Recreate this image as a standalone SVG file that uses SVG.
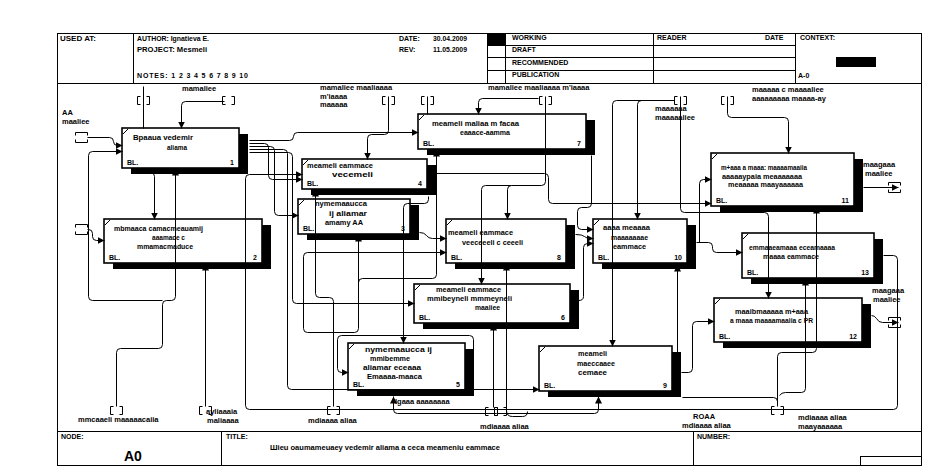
<svg xmlns="http://www.w3.org/2000/svg" width="951" height="467" viewBox="0 0 951 467">
<style>
.fr{fill:none;stroke:#000;stroke-width:1}
.bx{fill:#fff;stroke:#000;stroke-width:1.6}
.sh{fill:#000}
.ln{fill:none;stroke:#000;stroke-width:1}
.t{font-family:"Liberation Sans",Arial,sans-serif;font-size:7.5px;font-weight:bold;fill:#000}
.h{font-family:"Liberation Sans",Arial,sans-serif;font-size:7px;font-weight:bold;fill:#000}
</style>
<defs>
<marker id="a" markerUnits="userSpaceOnUse" markerWidth="8" markerHeight="8" refX="7" refY="3.5" orient="auto"><path d="M0,0 L7,3.5 L0,7 z" fill="#000"/></marker>
<path id="tv" d="M-3,-4 h-3 v8 h3 M3,-4 h3 v8 h-3" fill="none" stroke="#000" stroke-width="1"/>
<path id="th" d="M-6,-2 v-3 h12 v3 M-6,2 v3 h12 v-3" fill="none" stroke="#000" stroke-width="1"/>
</defs>
<rect width="951" height="467" fill="#fff"/>
<g id="frame">
<rect class="fr" x="57.5" y="33.5" width="864" height="432"/>
<path class="fr" d="M57,83.5 H921 M133.5,33 V83 M487.5,33 V83 M505.5,33 V83 M653.5,33 V83 M795.5,33 V83 M487,45.5 H795 M487,57.5 H795 M487,70.5 H795 M57,431.5 H921 M221.5,431 V466 M693.5,431 V466 M860.5,456 V466 M860,456.5 H921"/>
<rect x="487" y="33" width="18" height="12" fill="#000"/>
<rect x="836" y="57" width="40" height="10" fill="#000"/>
<text class="h" x="60" y="41" textLength="36" lengthAdjust="spacingAndGlyphs">USED AT:</text>
<text class="h" x="137" y="41" textLength="72" lengthAdjust="spacingAndGlyphs">AUTHOR:  Ignatieva E.</text>
<text class="h" x="137" y="52" textLength="70" lengthAdjust="spacingAndGlyphs">PROJECT:  Mesmeli</text>
<text class="h" x="137" y="78" textLength="111" lengthAdjust="spacing">NOTES:  1  2  3  4  5  6  7  8  9  10</text>
<text class="h" x="399" y="41">DATE:</text>
<text class="h" x="433" y="41" textLength="34" lengthAdjust="spacingAndGlyphs">30.04.2009</text>
<text class="h" x="399" y="52">REV:</text>
<text class="h" x="433" y="52" textLength="34" lengthAdjust="spacingAndGlyphs">11.05.2009</text>
<text class="h" x="512" y="40">WORKING</text>
<text class="h" x="512" y="52">DRAFT</text>
<text class="h" x="512" y="65">RECOMMENDED</text>
<text class="h" x="512" y="77">PUBLICATION</text>
<text class="h" x="657" y="40">READER</text>
<text class="h" x="765" y="40">DATE</text>
<text class="h" x="800" y="40">CONTEXT:</text>
<text class="h" x="798" y="78">A-0</text>
<text class="h" x="61" y="439">NODE:</text>
<text x="124" y="461" style="font-family:'Liberation Sans',Arial,sans-serif;font-size:14px;font-weight:bold">A0</text>
<text class="h" x="226" y="439">TITLE:</text>
<text class="t" x="270" y="450" textLength="230" lengthAdjust="spacingAndGlyphs">Шieu oaumameuaey vedemir aliama a ceca meameniu eammace</text>
<text class="h" x="697" y="439">NUMBER:</text>
</g>
<g id="n1"><rect class="sh" x="131" y="134" width="117" height="40"/><rect class="bx" x="122" y="128" width="117" height="40"/><path class="ln" d="M123,134 L128,129"/><text class="t" x="133" y="140" textLength="60" lengthAdjust="spacingAndGlyphs">Bpaaua vedemir</text><text class="t" x="167" y="150" textLength="20" lengthAdjust="spacingAndGlyphs">aliama</text><text class="h" x="127" y="165">BL.</text><text class="h" x="234" y="165" text-anchor="end">1</text></g>
<g id="n2"><rect class="sh" x="113" y="225" width="158" height="44"/><rect class="bx" x="104" y="219" width="158" height="44"/><path class="ln" d="M105,225 L110,220"/><text class="t" x="114" y="231" textLength="89" lengthAdjust="spacingAndGlyphs">mbmaaca camacmeauamij</text><text class="t" x="152" y="240" textLength="33" lengthAdjust="spacingAndGlyphs">aaamace c</text><text class="t" x="137" y="249" textLength="56" lengthAdjust="spacingAndGlyphs">mmamacmaduce</text><text class="h" x="109" y="260">BL.</text><text class="h" x="257" y="260" text-anchor="end">2</text></g>
<g id="n4"><rect class="sh" x="311" y="165" width="125" height="30"/><rect class="bx" x="302" y="159" width="125" height="30"/><path class="ln" d="M303,165 L308,160"/><text class="t" x="307" y="168" textLength="66" lengthAdjust="spacingAndGlyphs">meameli eammace</text><text class="t" x="332" y="177" textLength="41" lengthAdjust="spacingAndGlyphs">vecemeli</text><text class="h" x="307" y="186">BL.</text><text class="h" x="422" y="186" text-anchor="end">4</text></g>
<g id="n3"><rect class="sh" x="307" y="205" width="112" height="35"/><rect class="bx" x="298" y="199" width="112" height="35"/><path class="ln" d="M299,205 L304,200"/><text class="t" x="315" y="206" textLength="52" lengthAdjust="spacingAndGlyphs">nymemaaucca</text><text class="t" x="329" y="216" textLength="38" lengthAdjust="spacingAndGlyphs">ij aliamar</text><text class="t" x="325" y="225" textLength="38" lengthAdjust="spacingAndGlyphs">amamy AA</text><text class="h" x="303" y="231">BL.</text><text class="h" x="405" y="231" text-anchor="end">3</text></g>
<g id="n7"><rect class="sh" x="427" y="120" width="168" height="35"/><rect class="bx" x="418" y="114" width="168" height="35"/><path class="ln" d="M419,120 L424,115"/><text class="t" x="432" y="126" textLength="87" lengthAdjust="spacingAndGlyphs">meameli maliaa m facaa</text><text class="t" x="460" y="135" textLength="50" lengthAdjust="spacingAndGlyphs">eaaace-aamma</text><text class="h" x="423" y="146">BL.</text><text class="h" x="581" y="146" text-anchor="end">7</text></g>
<g id="n8"><rect class="sh" x="455" y="225" width="120" height="44"/><rect class="bx" x="446" y="219" width="120" height="44"/><path class="ln" d="M447,225 L452,220"/><text class="t" x="448" y="235" textLength="65" lengthAdjust="spacingAndGlyphs">meameli eammace</text><text class="t" x="462" y="245" textLength="61" lengthAdjust="spacingAndGlyphs">veeceeeli c ceeeli</text><text class="h" x="451" y="260">BL.</text><text class="h" x="561" y="260" text-anchor="end">8</text></g>
<g id="n6"><rect class="sh" x="423" y="290" width="156" height="39"/><rect class="bx" x="414" y="284" width="156" height="39"/><path class="ln" d="M415,290 L420,285"/><text class="t" x="436" y="292" textLength="65" lengthAdjust="spacingAndGlyphs">meameli eammace</text><text class="t" x="427" y="301" textLength="85" lengthAdjust="spacingAndGlyphs">mmibeyneli mmmeyneli</text><text class="t" x="475" y="310" textLength="25" lengthAdjust="spacingAndGlyphs">maaiiee</text><text class="h" x="419" y="320">BL.</text><text class="h" x="565" y="320" text-anchor="end">6</text></g>
<g id="n5"><rect class="sh" x="357" y="349" width="117" height="47"/><rect class="bx" x="348" y="343" width="117" height="47"/><path class="ln" d="M349,349 L354,344"/><text class="t" x="365" y="352" textLength="67" lengthAdjust="spacingAndGlyphs">nymemaaucca ij</text><text class="t" x="370" y="361" textLength="40" lengthAdjust="spacingAndGlyphs">mmibemme</text><text class="t" x="363" y="370" textLength="58" lengthAdjust="spacingAndGlyphs">aliamar eceaaa</text><text class="t" x="367" y="379" textLength="55" lengthAdjust="spacingAndGlyphs">Emaaaa-maaca</text><text class="h" x="353" y="387">BL.</text><text class="h" x="460" y="387" text-anchor="end">5</text></g>
<g id="n9"><rect class="sh" x="548" y="352" width="133" height="45"/><rect class="bx" x="539" y="346" width="133" height="45"/><path class="ln" d="M540,352 L545,347"/><text class="t" x="578" y="356" textLength="29" lengthAdjust="spacingAndGlyphs">meameli</text><text class="t" x="577" y="366" textLength="38" lengthAdjust="spacingAndGlyphs">maeccaaee</text><text class="t" x="578" y="375" textLength="29" lengthAdjust="spacingAndGlyphs">cemaee</text><text class="h" x="544" y="388">BL.</text><text class="h" x="667" y="388" text-anchor="end">9</text></g>
<g id="n10"><rect class="sh" x="602" y="225" width="94" height="44"/><rect class="bx" x="593" y="219" width="94" height="44"/><path class="ln" d="M594,225 L599,220"/><text class="t" x="603" y="230" textLength="47" lengthAdjust="spacingAndGlyphs">aaaa meaaaa</text><text class="t" x="611" y="240" textLength="37" lengthAdjust="spacingAndGlyphs">maaaaaaae</text><text class="t" x="613" y="249" textLength="33" lengthAdjust="spacingAndGlyphs">eammace</text><text class="h" x="598" y="260">BL.</text><text class="h" x="682" y="260" text-anchor="end">10</text></g>
<g id="n11"><rect class="sh" x="720" y="159" width="143" height="53"/><rect class="bx" x="711" y="153" width="143" height="53"/><path class="ln" d="M712,159 L717,154"/><text class="t" x="721" y="170" textLength="86" lengthAdjust="spacingAndGlyphs">m+aaa a maaa: maaaamaaiia</text><text class="t" x="722" y="179" textLength="80" lengthAdjust="spacingAndGlyphs">aaaaaypaia meaaaaaaa</text><text class="t" x="728" y="187" textLength="75" lengthAdjust="spacingAndGlyphs">meaaaaa maayaaaaaa</text><text class="h" x="716" y="203">BL.</text><text class="h" x="849" y="203" text-anchor="end">11</text></g>
<g id="n13"><rect class="sh" x="751" y="239" width="132" height="45"/><rect class="bx" x="742" y="233" width="132" height="45"/><path class="ln" d="M743,239 L748,234"/><text class="t" x="749" y="250" textLength="86" lengthAdjust="spacingAndGlyphs">emmaaeamaaa eceamaaaa</text><text class="t" x="763" y="259" textLength="56" lengthAdjust="spacingAndGlyphs">maaaa eammace</text><text class="h" x="747" y="275">BL.</text><text class="h" x="869" y="275" text-anchor="end">13</text></g>
<g id="n12"><rect class="sh" x="723" y="304" width="148" height="44"/><rect class="bx" x="714" y="298" width="148" height="44"/><path class="ln" d="M715,304 L720,299"/><text class="t" x="735" y="314" textLength="73" lengthAdjust="spacingAndGlyphs">maaibmaaaaa m+aaa</text><text class="t" x="730" y="323" textLength="83" lengthAdjust="spacingAndGlyphs">a maaa maaaamaaiia c PR</text><text class="h" x="719" y="339">BL.</text><text class="h" x="857" y="339" text-anchor="end">12</text></g>
<g id="connectors" transform="translate(0.5,0.5)">
<path class="ln" marker-end="url(#a)" d="M224,101 H185 Q181,101 181,105 V128"/>
<path class="ln" d="M143,86 V128"/>
<path class="ln" marker-end="url(#a)" d="M249,140 H289 Q293,140 293,136 Q293,132 297,132 H418"/>
<path class="ln" marker-end="url(#a)" d="M249,143 H264 Q268,143 268,147 V175 Q268,179 272,179 H302"/>
<path class="ln" marker-end="url(#a)" d="M249,146 H270 Q274,146 274,150 V211 Q274,215 278,215 H298"/>
<path class="ln" marker-end="url(#a)" d="M249,149 H283 Q287,149 287,153 V385 Q287,389 291,389 H539"/>
<path class="ln" marker-end="url(#a)" d="M249,152 H288 Q292,152 292,156 V299 Q292,303 296,303 H414"/>
<path class="ln" marker-end="url(#a)" d="M146,172 H150 Q154,172 154,176 V219"/>
<path class="ln" marker-end="url(#a)" d="M116,406 V352 Q116,348 120,348 H158 Q162,348 162,344 V304 Q162,300 166,300 H171 Q175,300 175,296 V168"/>
<path class="ln" marker-end="url(#a)" d="M87,137 H109 Q113,137 113,141 Q113,145 117,145 H122"/>
<path class="ln" marker-end="url(#a)" d="M162,300 H92 Q88,300 88,296 V155 Q88,151 92,151 H122"/>
<path class="ln" marker-end="url(#a)" d="M87,229 H88 Q92,229 92,233 V236 Q92,240 96,240 H104"/>
<path class="ln" marker-end="url(#a)" d="M883,255 H893 Q897,255 897,259 V405 Q897,409 893,409 H249 Q245,409 245,405 V178 Q245,174 249,174 H302"/>
<path class="ln" marker-end="url(#a)" d="M388,96 V130 Q388,134 384,134 H371 Q367,134 367,138 V159"/>
<path class="ln" d="M427,96 V114"/>
<path class="ln" marker-end="url(#a)" d="M538,98 H482 Q478,98 478,102 V114"/>
<path class="ln" marker-end="url(#a)" d="M545,96 V181 Q545,185 541,185 H511 Q507,185 507,189 V219"/>
<path class="ln" marker-end="url(#a)" d="M511,185 H485 Q481,185 481,189 V284"/>
<path class="ln" marker-end="url(#a)" d="M436,173 H544 Q548,173 548,177 V199 Q548,203 552,203 H711"/>
<path class="ln" d="M591,155 V203"/>
<path class="ln" marker-end="url(#a)" d="M591,203 Q591,207 587,207 H581 Q577,207 577,211 V225 Q577,229 581,229 H593"/>
<path class="ln" marker-end="url(#a)" d="M575,234 Q582,234 584,236 Q586,238 590,238 H593"/>
<path class="ln" marker-end="url(#a)" d="M578,300 Q583,300 583,296 V247 Q583,243 587,243 H593"/>
<path class="ln" marker-end="url(#a)" d="M696,242 H708 Q712,242 712,246 V248 Q712,252 716,252 H742"/>
<path class="ln" marker-end="url(#a)" d="M699,242 V183 Q699,179 703,179 H711"/>
<path class="ln" marker-end="url(#a)" d="M680,96 V208 Q680,212 684,212 H764 Q768,212 768,216 V298"/>
<path class="ln" marker-end="url(#a)" d="M674,100 H616 Q612,100 612,104 V346"/>
<path class="ln" marker-end="url(#a)" d="M641,100 Q637,100 637,104 V219"/>
<path class="ln" marker-end="url(#a)" d="M727,96 V113 Q727,117 731,117 H784 Q788,117 788,121 V153"/>
<path class="ln" marker-end="url(#a)" d="M863,187 H898"/>
<path class="ln" marker-end="url(#a)" d="M871,315 Q874,315 876,318 Q878,322 882,322 H898"/>
<path class="ln" marker-end="url(#a)" d="M681,372 H688 Q692,372 692,368 V325 Q692,321 696,321 H714"/>
<path class="ln" marker-end="url(#a)" d="M677,352 V264"/>
<path class="ln" marker-end="url(#a)" d="M777,406 V356 Q777,352 781,352 H812 Q816,352 816,348 V206"/>
<path class="ln" marker-end="url(#a)" d="M779,395 Q781,392 785,392 H801 Q805,392 805,388 V278"/>
<path class="ln" d="M682,397 H773 Q777,397 777,401"/>
<path class="ln" marker-end="url(#a)" d="M428,196 V199 Q428,203 424,203 H407 Q403,203 403,207 V343"/>
<path class="ln" marker-end="url(#a)" d="M303,328 V256 Q303,252 307,252 H446"/>
<path class="ln" marker-end="url(#a)" d="M303,328 Q303,332 307,332 H354 Q358,332 358,328 V234"/>
<path class="ln" marker-end="url(#a)" d="M358,282 Q358,278 362,278 H432 Q436,278 436,274 V149"/>
<path class="ln" marker-end="url(#a)" d="M333,406 V301 Q333,297 329,297 H319 Q315,297 315,293 V189"/>
<path class="ln" marker-end="url(#a)" d="M419,232 Q424,232 426,235 Q428,238 432,238 H446"/>
<path class="ln" marker-end="url(#a)" d="M473,365 V339 Q473,335 469,335 H341 Q337,335 337,339 V368 Q337,372 341,372 H348"/>
<path class="ln" marker-end="url(#a)" d="M496,413 H397 Q393,413 393,409 V396"/>
<path class="ln" marker-end="url(#a)" d="M496,413 H594 Q598,413 598,409 V396"/>
<path class="ln" marker-end="url(#a)" d="M493,407 V323"/>
<path class="ln" marker-end="url(#a)" d="M506,410 V263"/>
<path class="ln" d="M506,410 Q506,416 512,416 H522 Q527,416 527,411"/>
<path class="ln" marker-end="url(#a)" d="M205,406 V263"/>
</g>
<g id="tunnels" transform="translate(0.5,0.5)">
<use href="#tv" x="143" y="100"/><use href="#tv" x="228" y="100"/><use href="#tv" x="388" y="100"/><use href="#tv" x="427" y="100"/><use href="#tv" x="545" y="100"/><use href="#tv" x="680" y="100"/><use href="#tv" x="727" y="100"/>
<use href="#tv" x="116" y="410"/><use href="#tv" x="205" y="410"/><use href="#tv" x="333" y="410"/><use href="#tv" x="491" y="411"/><use href="#tv" x="500" y="411"/><use href="#tv" x="777" y="410"/>
<use href="#th" x="81" y="137"/><use href="#th" x="81" y="229"/><use href="#th" x="894" y="187"/><use href="#th" x="894" y="322"/>
</g>
<g id="labels">
<text class="t" x="182" y="91">mamaliee</text>
<text class="t" x="320" y="90">mamaliee maaliaaaa</text>
<text class="t" x="320" y="99">m'iaaaa</text>
<text class="t" x="320" y="107">maaaaa</text>
<text class="t" x="488" y="90">mamaliee maaliaaaa m'iaaaa</text>
<text class="t" x="655" y="111">maaaaaa</text>
<text class="t" x="655" y="120">maaaaaliee</text>
<text class="t" x="752" y="92">maaaaa c maaaaliee</text>
<text class="t" x="752" y="101">aaaaaaaaa maaaa-ay</text>
<text class="t" x="62" y="115">AA</text>
<text class="t" x="62" y="124">maaliee</text>
<text class="t" x="863" y="167">maagaaa</text>
<text class="t" x="865" y="176">maaliee</text>
<text class="t" x="872" y="293">maagaaa</text>
<text class="t" x="873" y="302">maaliee</text>
<text class="t" x="78" y="422">mmcaaeli maaaaacaiia</text>
<text class="t" x="206" y="414">ayliaaaia</text>
<text class="t" x="207" y="423">maliaaaa</text>
<text class="t" x="308" y="423">mdiaaaa aliaa</text>
<text class="t" x="395" y="404">Igaaa aaaaaaaa</text>
<text class="t" x="480" y="429">mdiaaaa aliaa</text>
<text class="t" x="693" y="419">ROAA</text>
<text class="t" x="682" y="428">mdiaaaa aliaa</text>
<text class="t" x="798" y="420">mdiaaaa aliaa</text>
<text class="t" x="798" y="429">maayaaaaaa</text>
</g>
</svg>
